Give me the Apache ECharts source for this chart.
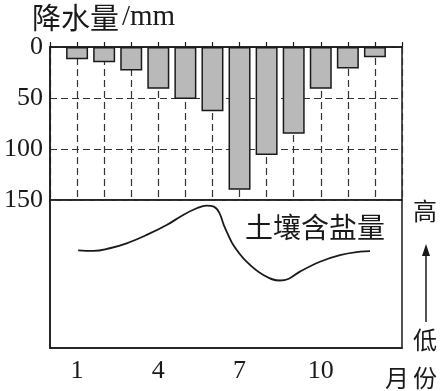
<!DOCTYPE html>
<html>
<head>
<meta charset="utf-8">
<script src="https://cdn.jsdelivr.net/npm/echarts@6/dist/echarts.min.js"></script>
<style>
html,body{margin:0;padding:0;background:#fff;}
#c{width:443px;height:391px;}
</style>
</head>
<body>
<div id="c"></div>
<script>
var months = [1,2,3,4,5,6,7,8,9,10,11,12];
var rainfall = [12,15,23,41,51,63,140,106,85,41,21,10];
var rainTicks = [0,50,100,150];
var monthLabels = [1,4,7,10];
var salinityMonth = [1.04,1.60,2.21,2.83,3.57,4.31,4.92,5.42,5.79,6.05,6.25,6.42,6.58,6.77,7.26,7.88,8.49,8.80,9.23,9.97,10.71,11.45,11.82];
var salinityLevel = [66.0,65.6,67.4,70.7,76.4,83.1,89.9,94.4,96.2,95.5,91.5,83.0,76.5,69.6,58.3,49.3,45.6,46.6,51.6,58.3,62.8,65.1,65.5];

var serif = '"Liberation Serif","DejaVu Serif",serif';
var cjk = '"Noto Sans CJK SC","Noto Sans CJK JP",sans-serif';
var ink = '#1a1a1a';

var chart = echarts.init(document.getElementById('c'), null, {renderer:'canvas'});
chart.setOption({
  backgroundColor:'#fff',
  animation:false,
  grid:[
    {left:50, top:47, width:352, height:153, show:true, borderColor:ink, borderWidth:1.5, backgroundColor:'transparent'},
    {left:50, top:200, width:352, height:148, show:true, borderColor:ink, borderWidth:1.5, backgroundColor:'transparent'}
  ],
  xAxis:[
    {gridIndex:0, type:'value', min:0, max:13, interval:1, position:'bottom',
     axisLine:{show:true, lineStyle:{color:ink, width:1.5}},
     axisTick:{show:true, inside:true, length:5, lineStyle:{color:ink, width:1.2}},
     axisLabel:{show:false},
     splitLine:{show:true, lineStyle:{color:'#333', width:1.2, type:[7,4]}}},
    {gridIndex:1, type:'value', min:0, max:13, interval:1, position:'bottom',
     axisLine:{show:true, lineStyle:{color:ink, width:1.5}},
     axisTick:{show:false},
     axisLabel:{show:true, margin:10, fontFamily:serif, fontSize:26, color:ink,
       formatter:function(v){return monthLabels.indexOf(v)>=0 ? String(v) : '';}},
     splitLine:{show:false}}
  ],
  yAxis:[
    {gridIndex:0, type:'value', inverse:true, min:0, max:150, interval:50,
     axisLine:{show:true, lineStyle:{color:ink, width:1.5}},
     axisTick:{show:false},
     axisLabel:{show:true, margin:7, fontFamily:serif, fontSize:26, color:ink,
       formatter:function(v){return rainTicks.indexOf(v)>=0 ? String(v) : '';}},
     splitLine:{show:true, lineStyle:{color:'#333', width:1.2, type:[7,4]}}},
    {gridIndex:1, type:'value', min:0, max:100,
     axisLine:{show:true, lineStyle:{color:ink, width:1.5}},
     axisTick:{show:false}, axisLabel:{show:false}, splitLine:{show:false}}
  ],
  series:[
    {type:'bar', xAxisIndex:0, yAxisIndex:0, barWidth:22,
     data:months.map(function(m,i){return [m, rainfall[i]];}),
     itemStyle:{color:'#b9b9b9', borderColor:ink, borderWidth:1.5},
     z:5},
    {type:'line', xAxisIndex:1, yAxisIndex:1, smooth:0.4, showSymbol:false, symbol:'none',
     data:salinityMonth.map(function(m,i){return [m, salinityLevel[i]];}),
     lineStyle:{color:ink, width:1.8}}
  ],
  graphic:[
    {type:'text', left:32, top:3, style:{
      rich:{c:{fontFamily:cjk, fontSize:29, fill:ink}, s:{fontFamily:serif, fontSize:29, fill:ink, padding:[0,0,0,3]}},
      text:'{c|降水量}{s|/mm}'}},
    {type:'text', x:315, y:227, style:{text:'土壤含盐量', fontFamily:cjk, fontSize:28, fill:ink, textAlign:'center', textVerticalAlign:'middle'}},
    {type:'text', x:425, y:211, style:{text:'高', fontFamily:cjk, fontSize:24, fill:ink, textAlign:'center', textVerticalAlign:'middle'}},
    {type:'text', x:425, y:340, style:{text:'低', fontFamily:cjk, fontSize:24, fill:ink, textAlign:'center', textVerticalAlign:'middle'}},
    {type:'text', x:397, y:378, style:{text:'月', fontFamily:cjk, fontSize:24, fill:ink, textAlign:'center', textVerticalAlign:'middle'}},
    {type:'text', x:425, y:378, style:{text:'份', fontFamily:cjk, fontSize:24, fill:ink, textAlign:'center', textVerticalAlign:'middle'}},
    {type:'line', shape:{x1:426, y1:322, x2:426, y2:252}, style:{stroke:ink, lineWidth:1.5}},
    {type:'polygon', shape:{points:[[426,244],[422,256],[430,256]]}, style:{fill:ink}}
  ]
});
</script>
</body>
</html>
